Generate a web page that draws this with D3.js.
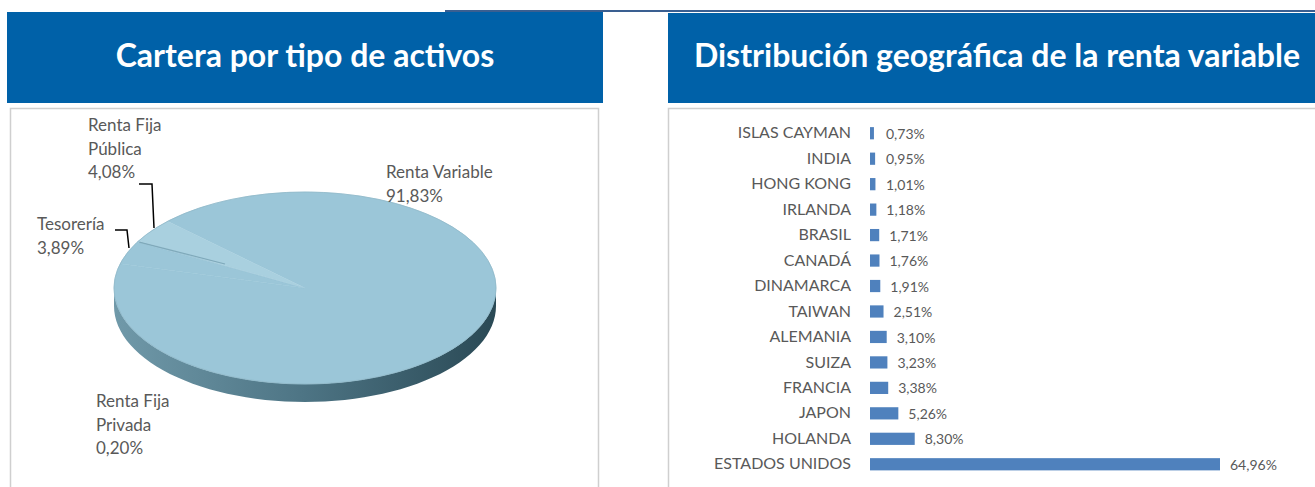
<!DOCTYPE html>
<html>
<head>
<meta charset="utf-8">
<script src="https://cdn.jsdelivr.net/npm/d3@7"></script>
<style>
  body { margin: 0; background: #fff; }
  text { font-family: Lato, "Open Sans", sans-serif; }
</style>
</head>
<body>
<div id="chart"></div>
<script>
// pie data
var assetNames = ["Renta Variable", "Tesorería", "Renta Fija Privada", "Renta Fija Pública"]
var assetValues = [91.83, 3.89, 0.20, 4.08]

// bar data (top to bottom)
var countries = ["ISLAS CAYMAN", "INDIA", "HONG KONG", "IRLANDA", "BRASIL", "CANADÁ", "DINAMARCA",
    "TAIWAN", "ALEMANIA", "SUIZA", "FRANCIA", "JAPON", "HOLANDA", "ESTADOS UNIDOS"]
var countryValues = [0.73, 0.95, 1.01, 1.18, 1.71, 1.76, 1.91, 2.51, 3.10, 3.23, 3.38, 5.26, 8.30, 64.96]

var W = 1315, H = 487
var fmt = function (v) { return v.toFixed(2).replace(".", ",") + "%" }

var svg = d3.select("#chart").append("svg")
    .attr("width", W)
    .attr("height", H)

// thin top rule + headers
svg.append("rect").attr("x", 445).attr("y", 10).attr("width", W - 445).attr("height", 2).attr("fill", "#3a5f91")
svg.append("rect").attr("x", 7).attr("y", 12).attr("width", 596).attr("height", 91).attr("fill", "#0061a8")
svg.append("rect").attr("x", 668).attr("y", 13).attr("width", W - 668).attr("height", 90).attr("fill", "#0061a8")

svg.append("text").attr("x", 305).attr("y", 67).attr("text-anchor", "middle")
    .attr("fill", "#fff").style("font-weight", "bold").style("font-size", "32px")
    .text("Cartera por tipo de activos")
svg.append("text").attr("x", 997).attr("y", 67).attr("text-anchor", "middle")
    .attr("fill", "#fff").style("font-weight", "bold").style("font-size", "32px")
    .text("Distribución geográfica de la renta variable")

// panel borders
svg.append("rect").attr("x", 10.5).attr("y", 108.5).attr("width", 588).attr("height", 400)
    .attr("fill", "none").attr("stroke", "#cfcfcf").attr("stroke-width", 1.5)
svg.append("rect").attr("x", 668.5).attr("y", 108.5).attr("width", 700).attr("height", 400)
    .attr("fill", "none").attr("stroke", "#cfcfcf").attr("stroke-width", 1.5)

// ---------- 3D pie ----------
var cx = 305, cy = 288, rx = 191, ry = 96, depth = 18

var pie = d3.pie()
    .sort(null)
    .startAngle(-46 * Math.PI / 180)
    .endAngle(314 * Math.PI / 180)
    .value(function (d) { return d })

var slices = pie(assetValues)

var defs = svg.append("defs")
var grad = defs.append("linearGradient").attr("id", "side").attr("x1", "0%").attr("x2", "100%")
grad.append("stop").attr("offset", "0%").attr("stop-color", "#7099a9")
grad.append("stop").attr("offset", "50%").attr("stop-color", "#4d7484")
grad.append("stop").attr("offset", "100%").attr("stop-color", "#2a4955")

function px(a) { return cx + rx * Math.sin(a) }
function py(a) { return cy - ry * Math.cos(a) }

// side band, only the part facing the viewer (pi/2 .. 3pi/2)
function sidePath(d) {
    var s = Math.max(d.startAngle, Math.PI / 2)
    var e = Math.min(d.endAngle, 3 * Math.PI / 2)
    if (e <= s) return null
    var p = d3.path()
    var n = 60
    for (var i = 0; i <= n; i++) {
        var a = s + (e - s) * i / n
        if (i == 0) p.moveTo(px(a), py(a)); else p.lineTo(px(a), py(a))
    }
    for (var j = n; j >= 0; j--) {
        var b = s + (e - s) * j / n
        p.lineTo(px(b), py(b) + depth)
    }
    p.closePath()
    return p.toString()
}

var pieG = svg.append("g")

pieG.selectAll("path.side")
    .data(slices)
    .enter()
    .append("path")
    .attr("class", "side")
    .attr("d", sidePath)
    .attr("fill", "url(#side)")

var arcGen = d3.arc().innerRadius(0).outerRadius(rx)
var topColors = ["#9bc6d8", "#9bc6d8", "#9ac4d6", "#a9d0df"]

pieG.append("g")
    .attr("transform", "translate(" + cx + "," + cy + ") scale(1," + (ry / rx) + ")")
    .selectAll("path")
    .data(slices)
    .enter()
    .append("path")
    .attr("d", arcGen)
    .attr("fill", function (d, i) { return topColors[i] })
    .attr("stroke", function (d, i) { return topColors[i] })
    .attr("stroke-width", 0.6)

// faint edge where the small slices meet (Privada sliver)
var edge = slices[2]
pieG.append("line")
    .attr("x1", px(edge.startAngle) + 2).attr("y1", py(edge.startAngle))
    .attr("x2", cx - 80).attr("y2", cy - 24)
    .attr("stroke", "#7fa9ba").attr("stroke-width", 1.2)

// rim outline
pieG.append("ellipse").attr("cx", cx).attr("cy", cy).attr("rx", rx).attr("ry", ry)
    .attr("fill", "none").attr("stroke", "#8fb7c8").attr("stroke-width", 0.8)

// pie labels
var labelColor = "#595959"
var pieLabels = [
    { lines: ["Renta Variable", fmt(assetValues[0])], x: 386, y: 178 },
    { lines: ["Tesorería", fmt(assetValues[1])], x: 37, y: 230 },
    { lines: ["Renta Fija", "Privada", fmt(assetValues[2])], x: 96, y: 407 },
    { lines: ["Renta Fija", "Pública", fmt(assetValues[3])], x: 88, y: 131 }
]
pieLabels.forEach(function (l) {
    var t = svg.append("text").attr("x", l.x).attr("y", l.y)
        .attr("fill", labelColor).style("font-size", "17px")
    l.lines.forEach(function (s, i) {
        t.append("tspan").attr("x", l.x).attr("dy", i == 0 ? 0 : 23.5).text(s)
    })
})

// leader lines
var leader = d3.line()
svg.append("path").attr("d", leader([[139, 184], [152, 184], [154, 228]]))
    .attr("fill", "none").attr("stroke", "#000").attr("stroke-width", 1.5)
svg.append("path").attr("d", leader([[115, 230], [127, 230], [129, 248]]))
    .attr("fill", "none").attr("stroke", "#000").attr("stroke-width", 1.5)

// ---------- bar chart ----------
var x0 = 870
var x = d3.scaleLinear().domain([0, 64.96]).range([x0, 1220])
var y = d3.scaleBand().domain(countries).range([120.5, 477]).paddingInner(0.52).paddingOuter(0.26)

var barG = svg.append("g")

barG.selectAll("rect")
    .data(countryValues)
    .enter()
    .append("rect")
    .attr("x", x0)
    .attr("y", function (d, i) { return y(countries[i]) })
    .attr("width", function (d) { return x(d) - x0 })
    .attr("height", y.bandwidth())
    .attr("fill", "#4f81bd")

// category axis, labels only
var yAxis = d3.axisLeft(y).tickSize(0).tickPadding(0)
var axG = svg.append("g").attr("transform", "translate(851,0)").call(yAxis)
axG.select(".domain").remove()
axG.selectAll("text").attr("fill", labelColor).style("font-size", "16px")
    .style("font-family", "Lato, 'Open Sans', sans-serif")

barG.selectAll("text")
    .data(countryValues)
    .enter()
    .append("text")
    .attr("x", function (d) { return Math.max(x(d), 876) + 10 })
    .attr("y", function (d, i) { return y(countries[i]) + y.bandwidth() / 2 })
    .attr("dy", "0.4em")
    .attr("fill", labelColor)
    .style("font-size", "14px")
    .text(fmt)
</script>
</body>
</html>
